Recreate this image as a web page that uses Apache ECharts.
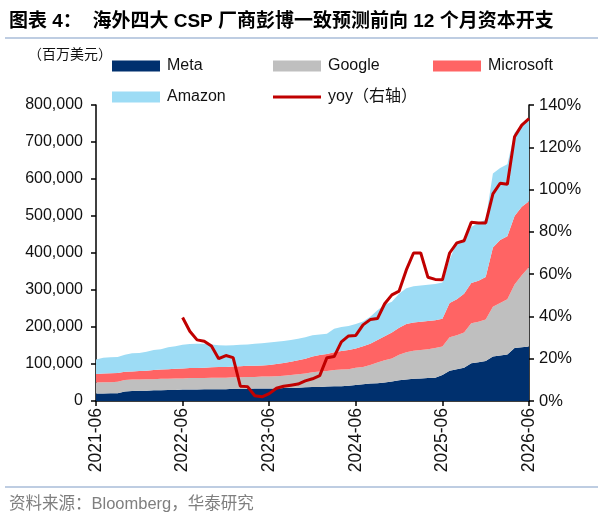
<!DOCTYPE html>
<html>
<head>
<meta charset="utf-8">
<script src="https://cdn.jsdelivr.net/npm/echarts@6/dist/echarts.min.js"></script>
<style>
  html, body { margin: 0; padding: 0; background: #fff; }
  #main { width: 603px; height: 513px; }
</style>
</head>
<body>
<div id="main"></div>
<script>
// months 2021-06 .. 2026-06
var months = [];
for (var y = 2021; y <= 2026; y++) {
  for (var m = 1; m <= 12; m++) {
    if ((y === 2021 && m < 6) || (y === 2026 && m > 6)) continue;
    months.push(y + "-" + (m < 10 ? "0" + m : m));
  }
}

var meta = [20000, 20000, 21000, 21000, 26000, 27000, 28000, 28000, 29000, 29000, 30000, 30000, 31000,
  31000, 31000, 32000, 32000, 32000, 32000, 33000, 33000, 33000, 34000, 34000, 34000,
  34000, 35000, 35000, 36000, 37000, 38000, 38000, 39000, 40000, 40000, 41000, 43000,
  45000, 47000, 48000, 50000, 53000, 56000, 58000, 60000, 61000, 62000, 63000, 70000,
  82000, 86000, 90000, 102000, 105000, 108000, 120000, 123000, 126000, 143000, 145000, 147000];

var google = [30000, 31000, 30000, 31000, 31000, 31000, 30000, 31000, 30000, 31000, 30000, 31000, 30000,
  31000, 31000, 30000, 31000, 31000, 31000, 31000, 31000, 32000, 31000, 32000, 32000,
  33000, 33000, 35000, 36000, 37000, 40000, 42000, 42000, 44000, 45000, 45000, 47000,
  47000, 50000, 56000, 60000, 62000, 69000, 74000, 76000, 77000, 78000, 80000, 77000,
  90000, 92000, 95000, 108000, 109000, 112000, 135000, 142000, 149000, 172000, 195000, 215000];

var microsoft = [23000, 23000, 24000, 24000, 22000, 22000, 23000, 23000, 25000, 25000, 26000, 26000, 27000,
  27000, 27000, 28000, 28000, 29000, 29000, 29000, 30000, 30000, 30000, 30000, 31000,
  33000, 35000, 36000, 38000, 40000, 42000, 44000, 46000, 48000, 50000, 52000, 52000,
  56000, 58000, 61000, 65000, 70000, 73000, 76000, 76000, 76000, 76000, 75000, 75000,
  93000, 97000, 105000, 109000, 111000, 115000, 160000, 170000, 170000, 185000, 185000, 178000];

var amazon = [39000, 43000, 43000, 43000, 46000, 49000, 49000, 51000, 54000, 55000, 59000, 61000, 64000,
  65000, 66000, 65000, 62000, 59000, 58000, 58000, 58000, 58000, 60000, 60000, 61000,
  60000, 59000, 59000, 58000, 58000, 58000, 56000, 55000, 63000, 65000, 65000, 66000,
  67000, 73000, 80000, 85000, 83000, 92000, 97000, 98000, 98000, 98000, 98000, 98000,
  117000, 155000, 146000, 151000, 157000, 155000, 200000, 195000, 195000, 225000, 220000, 220000];

// yoy (%), starts 2022-06
var yoy = [null, null, null, null, null, null, null, null, null, null, null, null, 39.5,
  33, 28.9, 28.3, 26, 20, 21.5, 20.5, 7, 6.8, 2.5, 2, 3.5,
  6, 7, 7.5, 8, 9.5, 10.5, 12, 20.5, 21, 28, 30.8, 31,
  36, 38.5, 39, 46, 50.2, 52, 62, 70, 70, 58.5, 57.5, 57.3,
  70, 74.8, 75.8, 84.5, 84.2, 84.2, 98, 103, 102.5, 125, 130.5, 133.5];

var leftTicks = [0, 800000, 100000];
var rightTicks = [0, 140, 20];

var colors = {
  meta: "#00306E",
  google: "#BFBFBF",
  microsoft: "#FF6464",
  amazon: "#9DDCF5",
  yoy: "#C00000"
};

var chart = echarts.init(document.getElementById("main"));
var fontLatin = "Liberation Sans, Arial, Noto Sans CJK SC, sans-serif";
var fontCjk = "Liberation Sans, Noto Sans CJK SC, sans-serif";

function areaSeries(name, data, color) {
  return {
    name: name,
    type: "line",
    stack: "total",
    data: data,
    showSymbol: false,
    symbol: "none",
    lineStyle: { width: 0 },
    itemStyle: { color: color },
    areaStyle: { color: color, opacity: 1 },
    z: 2
  };
}

var legendBase = {
  itemWidth: 48,
  itemHeight: 11,
  icon: "rect",
  textStyle: { fontSize: 16, color: "#111", fontFamily: fontCjk, padding: [0, 0, 0, 2] }
};
function legendAt(name, left, top, extra) {
  var l = Object.assign({}, legendBase, { data: [name], left: left, top: top });
  return Object.assign(l, extra || {});
}

var option = {
  backgroundColor: "#fff",
  animation: false,
  title: [
    {
      text: "图表 4：  海外四大 CSP 厂商彭博一致预测前向 12 个月资本开支",
      left: 4,
      top: 7,
      textStyle: { fontSize: 19, fontWeight: "bold", color: "#000", fontFamily: fontCjk }
    },
    {
      text: "资料来源：Bloomberg，华泰研究",
      left: 4,
      top: 491,
      textStyle: { fontSize: 16.5, fontWeight: "normal", color: "#7F7F7F", fontFamily: fontCjk }
    }
  ],
  graphic: [
    { type: "line", shape: { x1: 5, y1: 38, x2: 598, y2: 38 }, style: { stroke: "#A9BCD8", lineWidth: 1.5 } },
    { type: "line", shape: { x1: 5, y1: 487, x2: 598, y2: 487 }, style: { stroke: "#A9BCD8", lineWidth: 1.5 } },
    { type: "text", left: 28, top: 47, style: { text: "（百万美元）", fontSize: 14, fill: "#111", fontFamily: "Noto Sans CJK SC" } }
  ],
  legend: [
    legendAt("Meta", 107, 53),
    legendAt("Google", 268, 53),
    legendAt("Microsoft", 428, 53),
    legendAt("Amazon", 107, 84),
    legendAt("yoy（右轴）", 268, 84, { itemHeight: 3 })
  ],
  grid: { left: 96, right: 74, top: 105, bottom: 112 },
  xAxis: {
    type: "category",
    data: months,
    boundaryGap: false,
    axisLine: { lineStyle: { color: "#000", width: 1.5 } },
    axisTick: { interval: 11, length: 5, lineStyle: { color: "#000", width: 1.5 } },
    axisLabel: { interval: 11, rotate: 90, fontSize: 17.5, color: "#111", fontFamily: fontLatin, margin: 7 },
    splitLine: { show: false }
  },
  yAxis: [
    {
      type: "value",
      min: leftTicks[0],
      max: leftTicks[1],
      interval: leftTicks[2],
      axisLine: { show: true, lineStyle: { color: "#000", width: 1.5 } },
      axisTick: { show: true, length: 5, lineStyle: { color: "#000", width: 1.5 } },
      axisLabel: {
        fontSize: 16, color: "#111", fontFamily: fontLatin, margin: 13,
        formatter: function (v) { return v.toLocaleString("en-US"); }
      },
      splitLine: { show: false }
    },
    {
      type: "value",
      min: rightTicks[0],
      max: rightTicks[1],
      interval: rightTicks[2],
      position: "right",
      axisLine: { show: true, lineStyle: { color: "#000", width: 1.5 } },
      axisTick: { show: true, length: 5, lineStyle: { color: "#000", width: 1.5 } },
      axisLabel: { fontSize: 16.5, color: "#111", fontFamily: fontLatin, margin: 10, formatter: "{value}%" },
      splitLine: { show: false }
    }
  ],
  series: [
    areaSeries("Meta", meta, colors.meta),
    areaSeries("Google", google, colors.google),
    areaSeries("Microsoft", microsoft, colors.microsoft),
    areaSeries("Amazon", amazon, colors.amazon),
    {
      name: "yoy（右轴）",
      type: "line",
      yAxisIndex: 1,
      data: yoy,
      showSymbol: false,
      symbol: "none",
      connectNulls: false,
      lineStyle: { color: colors.yoy, width: 3 },
      itemStyle: { color: colors.yoy },
      z: 5
    }
  ]
};

chart.setOption(option);
</script>
</body>
</html>
